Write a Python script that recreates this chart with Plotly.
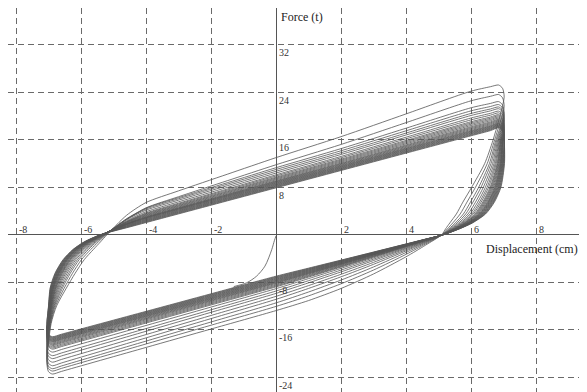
import plotly.graph_objects as go

# ---------------- data ----------------
disp_ticks = [-8, -6, -4, -2, 2, 4, 6, 8]
force_ticks = [-24, -16, -8, 8, 16, 24, 32]

# per-cycle values (inner/weakest loop first, outermost last)
pos_peak = [18.0, 18.1, 18.2, 18.3, 18.4, 18.5, 18.6, 18.7, 18.8, 18.95, 19.1, 19.25,
            19.4, 19.6, 19.8, 20.0, 20.2, 20.5, 20.8, 21.2, 21.5, 21.9, 22.4, 23.6, 25.2]
neg_peak = [-17.3, -17.4, -17.5, -17.6, -17.7, -17.8, -17.9, -18.0, -18.1, -18.2, -18.35, -18.5,
            -18.65, -18.8, -19.0, -19.2, -19.4, -19.9, -20.5, -21.0, -21.6, -22.2, -22.7, -23.1, -23.6]
upper_at_zero = [7.9, 8.0, 8.1, 8.2, 8.3, 8.4, 8.5, 8.6, 8.7, 8.8, 8.9, 9.0,
                 9.1, 9.25, 9.4, 9.55, 9.7, 9.9, 10.1, 10.4, 10.7, 11.0, 11.3, 11.8, 13.0]
lower_at_zero = [-7.0, -7.1, -7.2, -7.3, -7.4, -7.5, -7.6, -7.7, -7.8, -7.9, -8.0, -8.1,
                 -8.2, -8.35, -8.5, -8.65, -8.8, -9.1, -9.5, -9.9, -10.4, -10.9, -11.5, -12.1, -12.8]
roundness = [0.0, 0.02, 0.04, 0.06, 0.08, 0.1, 0.12, 0.14, 0.16, 0.18, 0.2, 0.22,
             0.25, 0.28, 0.31, 0.34, 0.37, 0.42, 0.47, 0.53, 0.6, 0.68, 0.76, 0.87, 1.0]

# unloading branch on the right (force levels, x of innermost and outermost loop)
desc_force = [16.0, 12.0, 8.0, 5.5, 3.5, 2.0, 1.0, 0.0]
desc_x_inner = [7.04, 7.03, 6.92, 6.72, 6.45, 6.05, 5.65, 5.15]
desc_x_outer = [6.68, 6.42, 6.02, 5.75, 5.55, 5.35, 5.22, 5.1]
# reloading branch on the left
asc_force = [-15.0, -12.0, -9.0, -6.5, -4.2, -2.5, -1.2, 0.0]
asc_x_inner = [-7.03, -7.0, -6.95, -6.8, -6.55, -6.25, -5.9, -5.4]
asc_x_outer = [-6.92, -6.75, -6.45, -6.18, -5.9, -5.62, -5.4, -5.2]

# initial loading curve from the origin
init_x = [0.0, -0.05, -0.13, -0.34, -0.6, -0.9, -1.3]
init_y = [-0.2, -1.0, -2.5, -5.3, -7.0, -8.1, -8.75]


def loop_points(P, N, U0, L0, r):
    s_up = (P - U0) / 6.9          # slope of the upper (loading) branch
    s_lo = (L0 - N) / 6.95         # slope of the lower branch left of the origin
    x_cross = 5.15 - 0.05 * r      # right-hand zero crossing
    s_in = -L0 / x_cross           # straight lower branch of the inner loops

    def yu(x):
        return U0 + s_up * x

    def ylo(x):
        return L0 + s_lo * x

    pts = [(-6.6, ylo(-6.6)), (-6.88, N + 0.1), (-7.0, N + 0.5), (-7.05, N + 2.0)]
    for f, xi, xo in zip(asc_force, asc_x_inner, asc_x_outer):
        if f > N + 2.5:
            pts.append((xi + r * (xo - xi), f))
    pts += [
        (-4.6, yu(-4.6) - 1.6 * r),
        (-4.0, yu(-4.0) - 0.5 * r),
        (-3.0, yu(-3.0) - 0.3 * r),
        (-1.5, yu(-1.5) - 0.15 * r),
        (0.0, U0),
        (2.0, yu(2.0)),
        (4.0, yu(4.0) + 0.3 * r),
        (6.0, yu(6.0) + 0.6 * r),
        (6.6, yu(6.6) + 0.3 * r),
        (6.85, P + 0.05),
        (6.97, P - 0.5),
        (7.02, P - 2.0),
    ]
    for f, xi, xo in zip(desc_force, desc_x_inner, desc_x_outer):
        if f < P - 2.5:
            pts.append((xi + r * (xo - xi), f))
    for x in [4.6, 4.0, 3.0, 2.0, 1.0]:
        y_in = L0 + s_in * x
        t = x / x_cross
        y_knee = ylo(x) - ylo(x_cross) * t ** 2.2
        pts.append((x, y_in + r * (y_knee - y_in)))
    for x in [0.0, -2.0, -4.0, -6.6]:
        pts.append((x, ylo(x)))
    return [p[0] for p in pts], [p[1] for p in pts]


fig = go.Figure()
line_col = "#555555"
for P, N, U0, L0, r in zip(pos_peak, neg_peak, upper_at_zero, lower_at_zero, roundness):
    xs, ys = loop_points(P, N, U0, L0, r)
    fig.add_trace(go.Scatter(x=xs, y=ys, mode="lines",
                             line=dict(color=line_col, width=0.8, shape="spline", smoothing=0.7),
                             hoverinfo="skip", showlegend=False))

fig.add_trace(go.Scatter(x=init_x, y=init_y, mode="lines",
                         line=dict(color=line_col, width=0.8, shape="spline", smoothing=0.8),
                         hoverinfo="skip", showlegend=False))

font_fam = "Liberation Serif, Times New Roman, serif"
annos = []
for v in disp_ticks:
    annos.append(dict(x=v, y=0, xref="x", yref="y", text=str(v), showarrow=False,
                      xanchor="left", yanchor="middle", xshift=1, yshift=5,
                      font=dict(family=font_fam, size=10, color="#333333")))
for v in force_ticks:
    annos.append(dict(x=0, y=v, xref="x", yref="y", text=str(v), showarrow=False,
                      xanchor="left", yanchor="middle", xshift=1, yshift=-8,
                      font=dict(family=font_fam, size=10, color="#333333")))
annos.append(dict(x=0, y=36.7, xref="x", yref="y", text="Force (t)", showarrow=False,
                  xanchor="left", yanchor="middle", xshift=3,
                  font=dict(family=font_fam, size=12, color="#222222")))
annos.append(dict(x=6.4, y=-2.4, xref="x", yref="y", text="Displacement (cm)", showarrow=False,
                  xanchor="left", yanchor="middle",
                  font=dict(family=font_fam, size=12, color="#222222")))

grid_col = "#6a6a6a"
# the page body has an 8px default margin, so the figure is sized to end at the window edge
fig.update_layout(
    width=579, height=384,
    margin=dict(l=0, r=0, t=0, b=0),
    paper_bgcolor="white", plot_bgcolor="white",
    annotations=annos,
    xaxis=dict(range=[-8.246, 9.569], tickvals=disp_ticks, showticklabels=False, ticks="",
               showgrid=True, gridcolor=grid_col, gridwidth=1, griddash="6px,4px",
               zeroline=True, zerolinecolor="#555555", zerolinewidth=1, showline=False,
               fixedrange=True),
    yaxis=dict(range=[-26.53, 38.24], tickvals=force_ticks, showticklabels=False, ticks="",
               showgrid=True, gridcolor=grid_col, gridwidth=1, griddash="6px,4px",
               zeroline=True, zerolinecolor="#555555", zerolinewidth=1, showline=False,
               fixedrange=True),
)

fig.write_html("out.html")
